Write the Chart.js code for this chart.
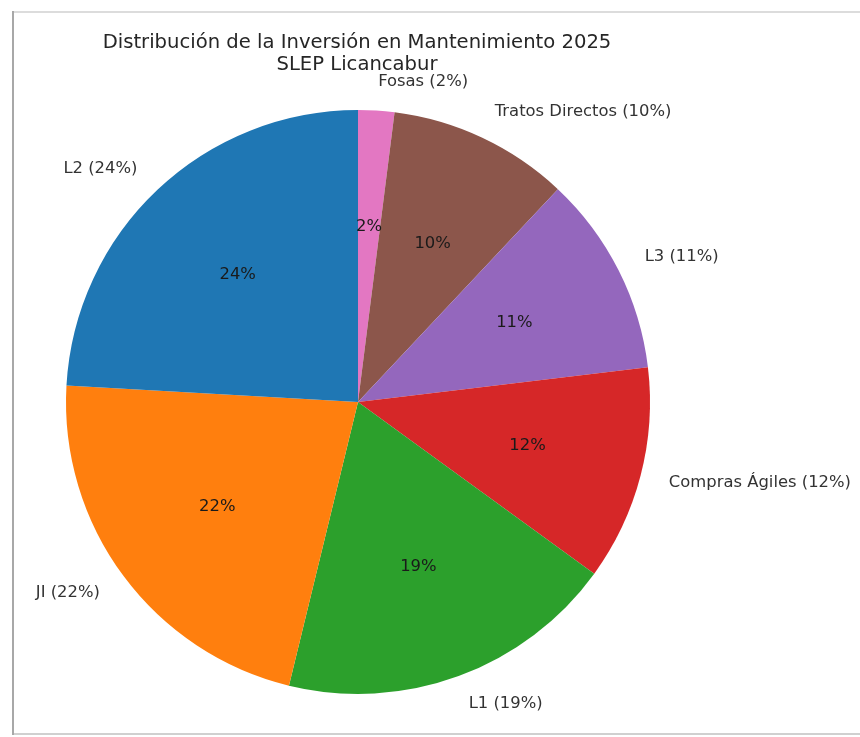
<!DOCTYPE html>
<html>
<head>
<meta charset="utf-8">
<script src="https://cdn.jsdelivr.net/npm/chart.js@4"></script>
<style>
  html, body { margin: 0; padding: 0; background: #fff; }
  #wrap { width: 860px; height: 737px; position: relative; }
</style>
</head>
<body>
<div id="wrap"><canvas id="pie" width="860" height="737"></canvas></div>
<script>
// slices in clockwise order from 12 o'clock
const categories = ['Fosas', 'Tratos Directos', 'L3', 'Compras Ágiles', 'L1', 'JI', 'L2'];
const shares = [2.0, 10.0, 11.1, 11.9, 18.8, 22.1, 24.1];
const sliceColors = ['#e377c2', '#8c564b', '#9467bd', '#d62728', '#2ca02c', '#ff7f0e', '#1f77b4'];
const titleLines = ['Distribución de la Inversión en Mantenimiento 2025', 'SLEP Licancabur'];

const total = shares.reduce((a, b) => a + b, 0);
const pct = v => Math.round(v / total * 100) + '%';

const frameAndText = {
  id: 'frameAndText',
  beforeDraw(chart) {
    const c = chart.ctx;
    c.save();
    c.fillStyle = '#fff';
    c.fillRect(0, 0, chart.width, chart.height);
    c.strokeStyle = '#dcdcdc';
    c.lineWidth = 2;
    c.beginPath(); c.moveTo(12, 12); c.lineTo(860, 12); c.stroke();
    c.strokeStyle = '#d0d0d0';
    c.beginPath(); c.moveTo(12, 734); c.lineTo(860, 734); c.stroke();
    c.strokeStyle = '#a8a8a8';
    c.beginPath(); c.moveTo(13, 11); c.lineTo(13, 735); c.stroke();
    c.restore();
  },
  afterDraw(chart) {
    const c = chart.ctx;
    const arcs = chart.getDatasetMeta(0).data;
    c.save();
    c.fillStyle = '#262626';
    c.textBaseline = 'middle';
    c.font = '19.6px "DejaVu Sans"';
    c.textAlign = 'center';
    c.fillText(titleLines[0], 357, 43);
    c.fillText(titleLines[1], 357, 65);

    c.font = '16.4px "DejaVu Sans"';
    arcs.forEach((a, i) => {
      const mid = (a.startAngle + a.endAngle) / 2;
      const r = a.outerRadius;
      const dx = Math.cos(mid), dy = Math.sin(mid);
      // outer label
      c.fillStyle = '#333';
      c.textAlign = dx >= 0 ? 'left' : 'right';
      c.fillText(categories[i] + ' (' + pct(shares[i]) + ')', a.x + dx * r * 1.1, a.y + dy * r * 1.1);
      // inner percentage
      c.fillStyle = '#1a1a1a';
      c.textAlign = 'center';
      c.fillText(pct(shares[i]), a.x + dx * r * 0.6, a.y + dy * r * 0.6);
    });
    c.restore();
  }
};

new Chart(document.getElementById('pie'), {
  type: 'pie',
  data: {
    labels: categories,
    datasets: [{
      data: shares,
      backgroundColor: sliceColors,
      borderWidth: 0
    }]
  },
  options: {
    responsive: false,
    animation: false,
    layout: { padding: { left: 66, right: 210, top: 110, bottom: 43 } },
    plugins: {
      legend: { display: false },
      tooltip: { enabled: false }
    }
  },
  plugins: [frameAndText]
});
</script>
</body>
</html>
